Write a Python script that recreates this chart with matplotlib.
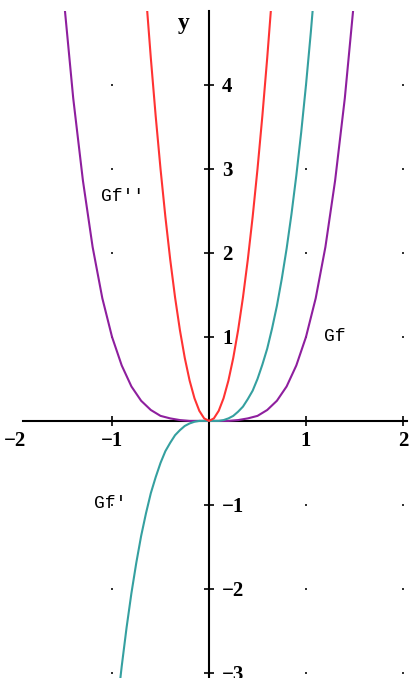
import matplotlib.pyplot as plt
import numpy as np
from matplotlib.patches import Rectangle

# Gf, Gf', Gf''
x_f = np.linspace(-1.5, 1.5, 31)
y_f = [5.06, 3.84, 2.86, 2.07, 1.46, 1.00, 0.66, 0.41, 0.24, 0.13, 0.06, 0.03, 0.01, 0.00, 0.00,
       0.00,
       0.00, 0.00, 0.01, 0.03, 0.06, 0.13, 0.24, 0.41, 0.66, 1.00, 1.46, 2.07, 2.86, 3.84, 5.06]

x_f1 = np.linspace(-0.95, 1.10, 42)
y_f1 = [-3.43, -2.92, -2.46, -2.05, -1.69, -1.37, -1.10, -0.86, -0.67, -0.50, -0.36, -0.26, -0.17,
        -0.11, -0.06, -0.03, -0.01, 0.00, 0.00,
        0.00,
        0.00, 0.00, 0.01, 0.03, 0.06, 0.11, 0.17, 0.26, 0.36, 0.50, 0.67, 0.86, 1.10, 1.37, 1.69,
        2.05, 2.46, 2.92, 3.43, 4.00, 4.63, 5.32]

x_f2 = np.linspace(-0.65, 0.65, 27)
y_f2 = [5.07, 4.32, 3.63, 3.00, 2.43, 1.92, 1.47, 1.08, 0.75, 0.48, 0.27, 0.12, 0.03,
        0.00,
        0.03, 0.12, 0.27, 0.48, 0.75, 1.08, 1.47, 1.92, 2.43, 3.00, 3.63, 4.32, 5.07]

xticks = [-2, -1, 1, 2]
yticks = [-3, -2, -1, 1, 2, 3, 4]
dot_x = [-1, 1, 2]

fig = plt.figure(figsize=(4.19, 6.78), dpi=100)
ax = fig.add_axes([0, 0, 1, 1])
ax.set_xlim(-2.155, 2.165)
ax.set_ylim(-3.06, 5.01)

# punktraster
gx, gy = np.meshgrid(dot_x, yticks)
ax.scatter(gx.ravel(), gy.ravel(), s=1.2, c='#333333', marker='s', linewidths=0, zorder=1)

# kurven, oben abgeschnitten wie im original
clip = Rectangle((-3, -4), 6, 8.88, transform=ax.transData)
for xs, ys, col in [(x_f, y_f, '#8e1f9e'), (x_f1, y_f1, '#35a0a0'), (x_f2, y_f2, '#ff3333')]:
    ln, = ax.plot(xs, ys, color=col, lw=1.5, zorder=3)
    ln.set_clip_path(clip)

# achsen durch den nullpunkt
for s in ['top', 'left']:
    ax.spines[s].set_visible(False)
ax.spines['bottom'].set_position(('data', 0))
ax.spines['bottom'].set_bounds(-1.92, 2.04)
ax.spines['right'].set_position(('data', 0))
ax.spines['right'].set_bounds(-3.06, 4.88)
for s in ['bottom', 'right']:
    ax.spines[s].set_linewidth(1.5)
    ax.spines[s].set_zorder(2)
ax.yaxis.tick_right()
ax.xaxis.tick_bottom()

tfont = {'family': 'Liberation Serif', 'weight': 'bold', 'size': 15}
ax.set_xticks(xticks)
ax.set_xticklabels(['\u22122', '\u22121', '1', '2'], fontdict=tfont)
ax.set_yticks(yticks)
ax.set_yticklabels(['\u22123', '\u22122', '\u22121', '1', '2', '3', '4'], fontdict=tfont)
ax.tick_params(axis='both', direction='inout', length=7, width=1.2, pad=4)
ax.tick_params(axis='y', pad=6)
ax.xaxis.get_major_ticks()[0].tick1line.set_visible(False)

ax.text(-0.26, 4.73, 'y', ha='center', va='center', family='Liberation Serif',
        weight='bold', size=17)

lfont = {'family': 'Liberation Mono', 'size': 13}
ax.text(-1.11, 2.67, "Gf''", ha='left', va='center', **lfont)
ax.text(-1.19, -0.98, "Gf'", ha='left', va='center', **lfont)
ax.text(1.19, 1.01, 'Gf', ha='left', va='center', **lfont)

plt.savefig('out.png', dpi=100)
